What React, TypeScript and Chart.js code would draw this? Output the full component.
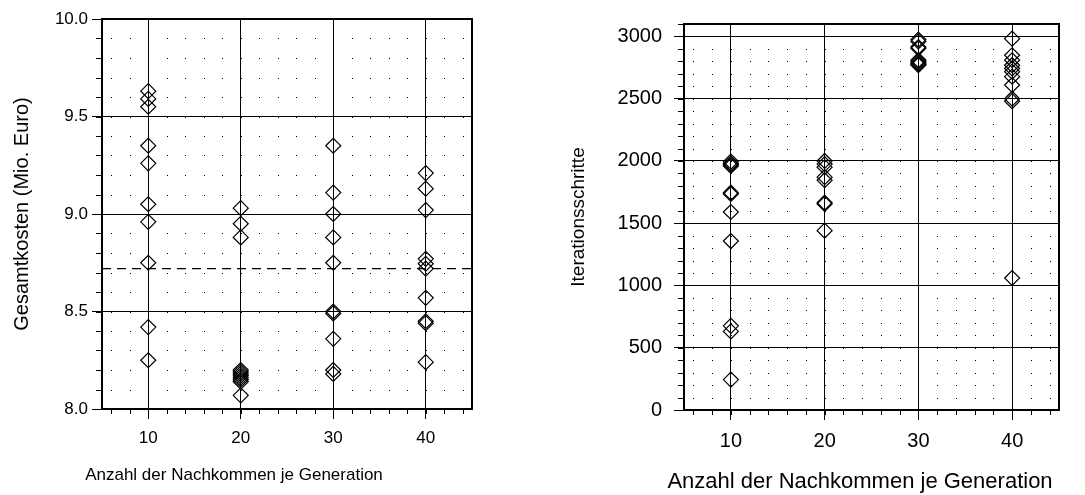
import React, { useEffect, useRef } from 'react';
import { Chart, registerables } from 'chart.js';

Chart.register(...registerables);

// ---- data ----
const offspring = [10, 20, 30, 40];
const costs10 = [9.63, 9.59, 9.55, 9.35, 9.26, 9.05, 8.96, 8.75, 8.42, 8.25];
const costs20 = [9.03, 8.95, 8.88, 8.2, 8.19, 8.18, 8.17, 8.16, 8.15, 8.14, 8.07];
const costs30 = [9.35, 9.11, 9.0, 8.88, 8.75, 8.5, 8.49, 8.36, 8.2, 8.18];
const costs40 = [9.21, 9.13, 9.02, 8.77, 8.745, 8.72, 8.57, 8.45, 8.44, 8.24];
const costMean = 8.72;
const iter10 = [1995, 1980, 1970, 1960, 1745, 1735, 1590, 1357, 676, 631, 244];
const iter20 = [2000, 1975, 1950, 1870, 1845, 1665, 1655, 1440];
const iter30 = [2975, 2960, 2915, 2905, 2810, 2800, 2790, 2780, 2775, 2770];
const iter40 = [2982, 2849, 2809, 2769, 2743, 2717, 2677, 2610, 2500, 2480, 1060];
const costTicks = [8.0, 8.5, 9.0, 9.5, 10.0];
const iterTicks = [0, 500, 1000, 1500, 2000, 2500, 3000];
const xTicks = [10, 20, 30, 40];

const xTitle = 'Anzahl der Nachkommen je Generation';
const FONT = "'Liberation Sans', Arial, sans-serif";

const decorPlugin = {
  id: 'decor',
  beforeDatasetsDraw(chart: any) {
    const o = chart.options.plugins.decor;
    const { ctx, chartArea: a } = chart;
    const x = chart.scales.x;
    const y = chart.scales.y;
    const xs: number[] = [];
    for (let v = Math.ceil(x.min / o.xStep) * o.xStep; v <= x.max + 1e-9; v += o.xStep) xs.push(v);
    const ys: number[] = [];
    const n = Math.round((y.max - y.min) / o.yStep);
    for (let i = 0; i <= n; i++) ys.push(y.min + i * o.yStep);
    ctx.save();
    ctx.fillStyle = '#000';
    for (const xv of xs) {
      for (const yv of ys) {
        const px = Math.round(x.getPixelForValue(xv));
        const py = Math.round(y.getPixelForValue(yv));
        if (py <= a.top + 1 || py >= a.bottom - 1) continue;
        ctx.fillRect(px, py, 1, 1);
      }
    }
    ctx.strokeStyle = '#000';
    ctx.lineWidth = 1;
    ctx.beginPath();
    for (const yv of ys) {
      const py = Math.round(y.getPixelForValue(yv)) + 0.5;
      ctx.moveTo(a.left - o.yMinorLen, py);
      ctx.lineTo(a.left, py);
    }
    for (const xv of xs) {
      const px = Math.round(x.getPixelForValue(xv)) + 0.5;
      ctx.moveTo(px, a.bottom);
      ctx.lineTo(px, a.bottom + o.xMinorLen);
    }
    ctx.stroke();
    ctx.restore();
  },
  afterDraw(chart: any) {
    const o = chart.options.plugins.decor;
    const { ctx, chartArea: a } = chart;
    ctx.save();
    ctx.strokeStyle = '#000';
    ctx.lineWidth = 2;
    ctx.strokeRect(a.left, a.top, a.right - a.left, a.bottom - a.top);
    ctx.fillStyle = '#000';
    ctx.font = `${o.titleSize}px ${FONT}`;
    ctx.textAlign = 'center';
    ctx.textBaseline = 'middle';
    ctx.fillText(o.xTitle, o.xTitleX, o.xTitleY);
    ctx.restore();
  },
};

function makeDatasets(groups: number[][]) {
  return groups.map((vals, i) => ({
    type: 'scatter' as const,
    data: vals.map((v) => ({ x: offspring[i], y: v })),
    pointStyle: 'rectRot',
    pointRadius: 7.5,
    pointBorderWidth: 1.2,
    borderColor: '#000',
    pointBorderColor: '#000',
    pointBackgroundColor: 'rgba(0,0,0,0)',
    showLine: false,
  }));
}

function ScatterPanel(props: {
  width: number;
  left: number;
  groups: number[][];
  yMin: number;
  yMax: number;
  yTicks: number[];
  yFmt: (v: number) => string;
  yTitle: string;
  yTitleSize: number;
  yTitlePad: number;
  yAxisWidth: number;
  yTickPad: number;
  tickSize: number;
  xTitleSize: number;
  yStep: number;
  padTop: number;
  padRight: number;
  xAxisHeight: number;
  xTitleX: number;
  xTitleY: number;
  meanLine?: number;
}) {
  const ref = useRef<HTMLCanvasElement>(null);
  useEffect(() => {
    const p = props;
    const datasets: any[] = makeDatasets(p.groups);
    if (p.meanLine !== undefined) {
      datasets.push({
        type: 'scatter',
        data: [
          { x: 5, y: p.meanLine },
          { x: 45, y: p.meanLine },
        ],
        showLine: true,
        borderColor: '#000',
        borderWidth: 1.2,
        borderDash: [9, 6],
        pointRadius: 0,
      });
    }
    const chart = new Chart(ref.current as HTMLCanvasElement, {
      type: 'scatter',
      data: { datasets },
      plugins: [decorPlugin as any],
      options: {
        responsive: false,
        animation: false,
        events: [],
        layout: { padding: { top: p.padTop, right: p.padRight, left: 0, bottom: 0 } },
        plugins: {
          legend: { display: false },
          tooltip: { enabled: false },
          decor: {
            xStep: 2,
            yStep: p.yStep,
            yMinorLen: 6,
            xMinorLen: 5,
            xTitle,
            xTitleX: p.xTitleX,
            xTitleY: p.xTitleY,
            titleSize: p.xTitleSize,
          },
        } as any,
        scales: {
          x: {
            type: 'linear',
            min: 5,
            max: 45,
            afterBuildTicks: (s: any) => {
              s.ticks = xTicks.map((v) => ({ value: v }));
            },
            afterFit: (s: any) => {
              s.height = p.xAxisHeight;
            },
            grid: { color: '#000', lineWidth: 1, tickLength: 10, tickColor: '#000' },
            border: { display: false },
            ticks: {
              autoSkip: false,
              maxRotation: 0,
              padding: 9,
              color: '#000',
              font: { family: FONT, size: p.tickSize },
              callback: (v: any) => String(v),
            },
          },
          y: {
            type: 'linear',
            min: p.yMin,
            max: p.yMax,
            afterBuildTicks: (s: any) => {
              s.ticks = p.yTicks.map((v) => ({ value: v }));
            },
            afterFit: (s: any) => {
              s.width = p.yAxisWidth;
            },
            grid: { color: '#000', lineWidth: 1, tickLength: 10, tickColor: '#000' },
            border: { display: false },
            ticks: {
              autoSkip: false,
              padding: p.yTickPad,
              color: '#000',
              font: { family: FONT, size: p.tickSize },
              callback: (v: any) => p.yFmt(Number(v)),
            },
            title: {
              display: true,
              text: p.yTitle,
              color: '#000',
              font: { family: FONT, size: p.yTitleSize },
              padding: { top: p.yTitlePad, bottom: 0 },
            },
          },
        },
      } as any,
    });
    return () => chart.destroy();
  }, []);
  return (
    <canvas
      ref={ref}
      width={props.width}
      height={495}
      style={{ position: 'absolute', left: props.left, top: 0, width: props.width, height: 495 }}
    />
  );
}

export default function App() {
  return (
    <div style={{ position: 'absolute', left: 0, top: 0, width: 1085, height: 495, background: '#fff' }}>
      <ScatterPanel
        width={542}
        left={0}
        groups={[costs10, costs20, costs30, costs40]}
        yMin={8}
        yMax={10}
        yTicks={costTicks}
        yFmt={(v) => v.toFixed(1)}
        yTitle="Gesamtkosten (Mio. Euro)"
        yTitleSize={20}
        yTitlePad={10}
        yAxisWidth={102}
        yTickPad={4}
        tickSize={17}
        xTitleSize={17}
        yStep={0.1}
        padTop={19}
        padRight={70}
        xAxisHeight={86}
        xTitleX={234}
        xTitleY={475}
        meanLine={costMean}
      />
      <ScatterPanel
        width={543}
        left={542}
        groups={[iter10, iter20, iter30, iter40]}
        yMin={0}
        yMax={3100}
        yTicks={iterTicks}
        yFmt={(v) => String(v)}
        yTitle="Iterationsschritte"
        yTitleSize={19}
        yTitlePad={25}
        yAxisWidth={142}
        yTickPad={12}
        tickSize={20}
        xTitleSize={22}
        yStep={100}
        padTop={20}
        padRight={26}
        xAxisHeight={85}
        xTitleX={318}
        xTitleY={482}
      />
    </div>
  );
}
